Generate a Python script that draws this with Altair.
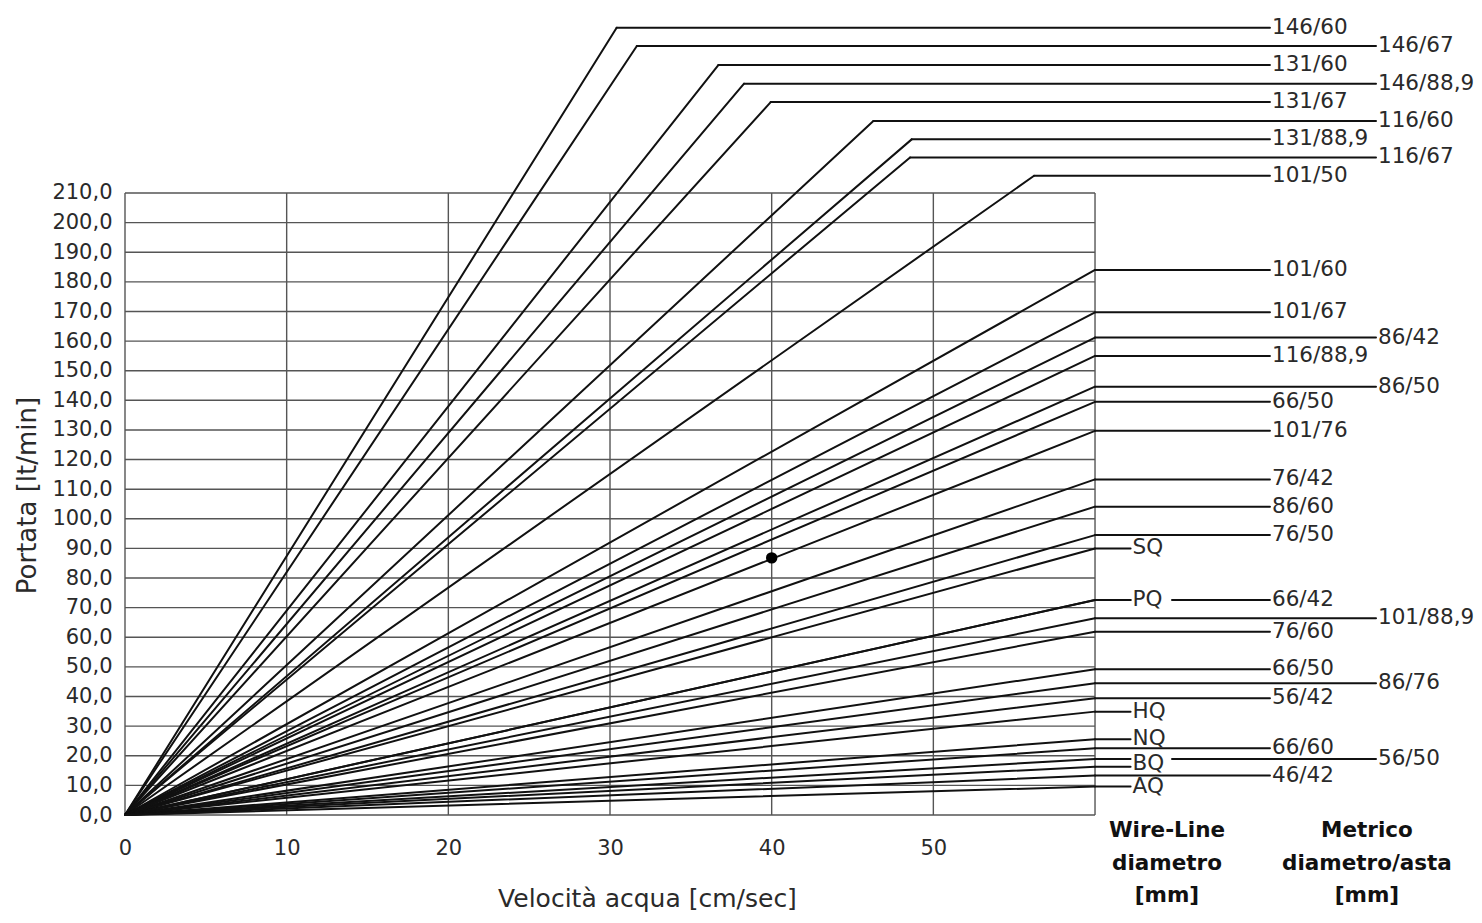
import altair as alt
import pandas as pd

# ---------------- data ----------------
# label of each line (diameter/rod for metric, wire-line size for Q series)
names = ["146/60", "146/67", "131/60", "146/88,9", "131/67", "116/60", "131/88,9", "116/67", "101/50",
         "101/60", "101/67", "86/42", "116/88,9", "86/50", "66/50", "101/76", "76/42", "86/60", "76/50",
         "SQ", "PQ", "66/42", "101/88,9", "76/60", "66/50", "86/76", "56/42", "HQ", "NQ", "66/60",
         "56/50", "BQ", "46/42", "AQ"]
# velocity [cm/sec] at which each line turns horizontal
end_v = [30.41, 31.66, 36.70, 38.29, 39.94, 46.29, 48.66, 48.56, 56.23] + [60] * 25
# flow [lt/min] at that point
end_q = [265.8, 259.6, 253.2, 246.9, 240.7, 234.3, 228.1, 222.0, 215.8,
         184.0, 169.7, 161.2, 155.0, 144.6, 139.5, 129.7, 113.3, 104.1, 94.5,
         90.0, 72.6, 72.6, 66.4, 61.9, 49.2, 44.5, 39.4, 34.9, 25.6, 22.5, 18.9, 16.3, 13.3, 9.6]
# label column: wire-line, metric (inner), metric (outer)
column = ["metric", "metric2", "metric", "metric2", "metric", "metric2", "metric", "metric2", "metric",
          "metric", "metric", "metric2", "metric", "metric2", "metric", "metric", "metric", "metric", "metric",
          "wire", "wire", "metric", "metric2", "metric", "metric", "metric2", "metric", "wire", "wire", "metric",
          "metric2", "wire", "metric", "wire"]
# metric lines whose leader is interrupted by a wire-line label
gap_after_wire = ["66/42", "56/50"]

point_v = [40.0]
point_q = [86.8]

x_ticks = [0, 10, 20, 30, 40, 50]
y_ticks = list(range(0, 211, 10))
grid_v = list(range(0, 61, 10))
grid_q = list(range(0, 211, 10))

footer_wire = ["Wire-Line", "diametro", "[mm]"]
footer_metric = ["Metrico", "diametro/asta", "[mm]"]

# ---------------- layout constants ----------------
PX_PER_V = 16.167
PX_PER_Q = 2.962
PAD_L = 117
W = 1466 - PAD_L
H = 807
X_MAX = W / PX_PER_V
Y_MAX = H / PX_PER_Q

WIRE_END = 62.2
WIRE_RESUME = 64.76
COL_END = {"wire": 62.2, "metric": 70.82, "metric2": 77.38}
LABEL_NUDGE_PX = {"BQ": -3}

FONT = "DejaVu Sans"
TXT = "#2a2a2a"

xscale = alt.Scale(domain=[0, X_MAX], nice=False, zero=False)
yscale = alt.Scale(domain=[0, Y_MAX], nice=False, zero=False)

xaxis = alt.Axis(values=x_ticks, title="Velocità acqua [cm/sec]", domain=False, ticks=False, grid=False,
                 labelFont=FONT, labelFontSize=21, labelColor=TXT, labelPadding=33, labelBaseline="middle",
                 labelFlush=False, labelOverlap=False, labelBound=False,
                 titleFont=FONT, titleFontSize=25, titleFontWeight="normal", titleColor=TXT,
                 titleX=522, titleY=83, titleBaseline="middle", titleAlign="center")
yaxis = alt.Axis(values=y_ticks, labelExpr="replace(format(datum.value, '.1f'), '.', ',')",
                 title="Portata [lt/min]", domain=False, ticks=False, grid=False,
                 labelFont=FONT, labelFontSize=21, labelColor=TXT, labelPadding=13, labelBaseline="middle",
                 labelFlush=False, labelOverlap=False, labelBound=False,
                 titleFont=FONT, titleFontSize=26, titleFontWeight="normal", titleColor=TXT,
                 titleX=-98, titleY=487, titleBaseline="middle", titleAlign="center", titleAngle=270)


def X(f="x"):
    return alt.X(f"{f}:Q", scale=xscale, axis=xaxis)


def Y(f="y"):
    return alt.Y(f"{f}:Q", scale=yscale, axis=yaxis)


# ---------------- tables ----------------
grid_rows = []
for q in grid_q:
    grid_rows.append({"x": 0, "x2": 60, "y": q, "y2": q})
for v in grid_v:
    grid_rows.append({"x": v, "x2": v, "y": 0, "y2": 210})
grid_df = pd.DataFrame(grid_rows)

diag_df = pd.DataFrame({"x": [0] * len(names), "y": [0] * len(names), "x2": end_v, "y2": end_q})

seg_rows = []
lab_rows = []
for n, v, q, c in zip(names, end_v, end_q, column):
    if n in gap_after_wire:
        seg_rows.append({"x": v, "x2": WIRE_END, "y": q})
        seg_rows.append({"x": WIRE_RESUME, "x2": COL_END[c], "y": q})
    else:
        seg_rows.append({"x": v, "x2": COL_END[c], "y": q})
    nudge = LABEL_NUDGE_PX.get(n, 0) if c == "wire" else 0
    lab_rows.append({"x": COL_END[c], "y": q - nudge / PX_PER_Q, "t": n, "c": c})
seg_df = pd.DataFrame(seg_rows)
lab_df = pd.DataFrame(lab_rows)

foot_rows = []
for i, (a, b) in enumerate(zip(footer_wire, footer_metric)):
    yq = -(16 + 32.5 * i) / PX_PER_Q
    foot_rows.append({"x": 64.45, "y": yq, "t": a})
    foot_rows.append({"x": 76.82, "y": yq, "t": b})
foot_df = pd.DataFrame(foot_rows)

pt_df = pd.DataFrame({"x": point_v, "y": point_q})

# ---------------- layers ----------------
grid = alt.Chart(grid_df).mark_rule(color="#555", strokeWidth=1.4).encode(
    x=X(), x2="x2", y=Y(), y2="y2")

diag = alt.Chart(diag_df).mark_rule(color="#111", strokeWidth=2, strokeCap="round").encode(
    x=X(), x2="x2", y=Y(), y2="y2")

segs = alt.Chart(seg_df).mark_rule(color="#111", strokeWidth=2, strokeCap="round").encode(
    x=X(), x2="x2", y=Y())

labels = alt.Chart(lab_df).mark_text(align="left", baseline="middle", dx=2, font=FONT, fontSize=21.5,
                                     color=TXT).encode(x=X(), y=Y(), text="t:N")

foot = alt.Chart(foot_df).mark_text(align="center", baseline="middle",
                                    font="'Comic Sans MS', 'DejaVu Sans'", fontWeight="bold",
                                    fontSize=21.5, color="#111").encode(x=X(), y=Y(), text="t:N")

pt = alt.Chart(pt_df).mark_circle(size=130, color="#000", opacity=1).encode(x=X(), y=Y())

chart = alt.layer(grid, diag, segs, labels, foot, pt).properties(
    width=W, height=H,
    autosize=alt.AutoSizeParams(type="none"),
    padding={"left": PAD_L, "top": 0, "right": 0, "bottom": 100},
    background="white",
).configure_view(stroke=None)

chart.save("out.html", embed_options={"renderer": "svg", "actions": False})
